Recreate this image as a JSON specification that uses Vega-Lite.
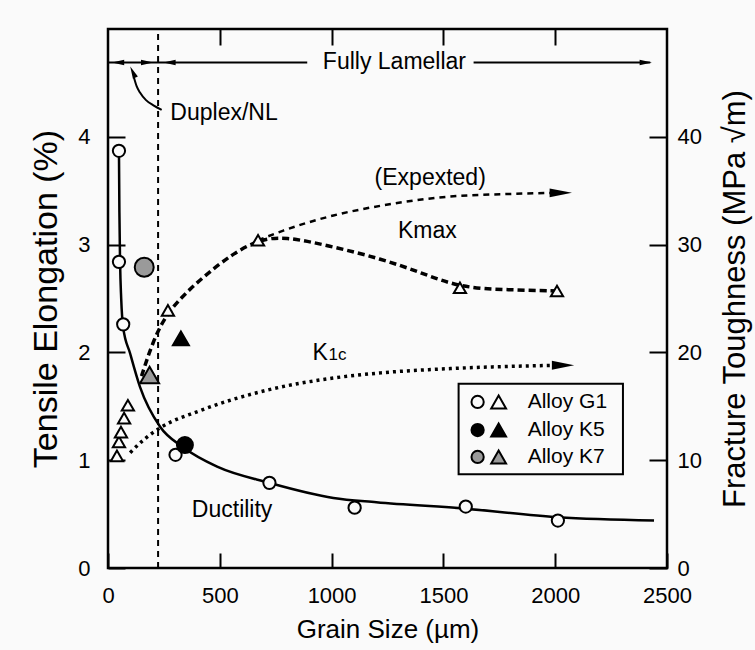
{
  "$schema": "https://vega.github.io/schema/vega-lite/v6.json",
  "width": 559,
  "height": 539,
  "autosize": "none",
  "padding": {"left": 108, "top": 29, "right": 88, "bottom": 82},
  "background": "#fafafa",
  "config": {
    "font": "Liberation Sans",
    "view": {"stroke": "black", "strokeWidth": 2.5},
    "axis": {"grid": false, "domain": false, "tickColor": "black", "tickWidth": 2, "labelColor": "black", "labelFont": "Liberation Sans", "labelFontSize": 22, "titleColor": "black", "titleFont": "Liberation Sans", "titleFontWeight": "normal"}
  },
  "resolve": {"scale": {"x": "independent", "y": "independent"}, "axis": {"x": "independent", "y": "independent"}},
  "layer": [
    {
      "encoding": {
        "x": {"field": "x", "type": "quantitative", "scale": {"domain": [0, 2500], "nice": false, "zero": false},
          "axis": {"orient": "bottom", "values": [0, 500, 1000, 1500, 2000, 2500], "format": "d", "tickSize": -15, "labelPadding": 32, "labelFlush": false, "title": "Grain Size (µm)", "titleFontSize": 26, "titlePadding": 10}},
        "y": {"field": "y", "type": "quantitative", "scale": {"domain": [0, 5], "nice": false, "zero": false},
          "axis": {"orient": "left", "values": [0, 1, 2, 3, 4], "tickSize": -17, "labelPadding": 35, "labelFlush": false, "title": "Tensile Elongation (%)", "titleFontSize": 34, "titlePadding": 14}}
      },
      "layer": [
        {
          "data": {"values": [{"x": 224, "y": 0, "y2": 5}]},
          "mark": {"type": "rule", "color": "black", "strokeWidth": 2, "strokeDash": [6, 5]},
          "encoding": {"y2": {"field": "y2"}}
        },
        {
          "data": {"values": [
            {"x": 0, "y": 4.69, "seg": "a"}, {"x": 891, "y": 4.69, "seg": "a"},
            {"x": 1635, "y": 4.69, "seg": "b"}, {"x": 2425, "y": 4.69, "seg": "b"}
          ]},
          "mark": {"type": "line", "color": "black", "strokeWidth": 2},
          "encoding": {"detail": {"field": "seg"}}
        },
        {
          "data": {"values": [{"x": 175, "y": 4.69}, {"x": 2405, "y": 4.69}]},
          "mark": {"type": "point", "shape": "M1,0L-1,-0.45L-1,0.45Z", "filled": true, "color": "black", "size": 150, "opacity": 1}
        },
        {
          "data": {"values": [{"x": 45, "y": 4.69}, {"x": 275, "y": 4.69}]},
          "mark": {"type": "point", "shape": "M-1,0L1,-0.45L1,0.45Z", "filled": true, "color": "black", "size": 150, "opacity": 1}
        },
        {
          "data": {"values": [
            {"x": 116, "y": 4.55}, {"x": 128, "y": 4.47}, {"x": 143, "y": 4.41}, {"x": 170, "y": 4.34}, {"x": 205, "y": 4.29}, {"x": 240, "y": 4.25}
          ]},
          "mark": {"type": "line", "color": "black", "strokeWidth": 2, "interpolate": "monotone"}
        },
        {
          "data": {"values": [{"x": 111, "y": 4.6}]},
          "mark": {"type": "point", "shape": "M0,-1L-0.45,1L0.45,1Z", "angle": -25, "filled": true, "color": "black", "size": 150, "opacity": 1}
        },
        {
          "data": {"values": [
            {"x": 49, "y": 3.87}, {"x": 51, "y": 3.3}, {"x": 54, "y": 2.84}, {"x": 59, "y": 2.5}, {"x": 68, "y": 2.23},
            {"x": 99, "y": 1.99}, {"x": 143, "y": 1.68}, {"x": 233, "y": 1.31}, {"x": 336, "y": 1.12}, {"x": 488, "y": 0.94},
            {"x": 722, "y": 0.79}, {"x": 1008, "y": 0.65}, {"x": 1200, "y": 0.61}, {"x": 1600, "y": 0.55}, {"x": 2012, "y": 0.47}, {"x": 2442, "y": 0.44}
          ]},
          "mark": {"type": "line", "color": "black", "strokeWidth": 2.5, "interpolate": "monotone"}
        },
        {
          "data": {"values": [
            {"x": 49, "y": 3.87, "alloy": "G1"}, {"x": 49, "y": 2.84, "alloy": "G1"}, {"x": 68, "y": 2.26, "alloy": "G1"},
            {"x": 302, "y": 1.05, "alloy": "G1"}, {"x": 722, "y": 0.79, "alloy": "G1"}, {"x": 1103, "y": 0.56, "alloy": "G1"},
            {"x": 1600, "y": 0.57, "alloy": "G1"}, {"x": 2012, "y": 0.44, "alloy": "G1"},
            {"x": 344, "y": 1.14, "alloy": "K5"}, {"x": 162, "y": 2.79, "alloy": "K7"}
          ]},
          "mark": {"type": "point", "shape": "circle", "filled": true, "stroke": "black", "strokeWidth": 2, "opacity": 1, "fillOpacity": 1},
          "encoding": {
            "fill": {"field": "alloy", "type": "nominal", "scale": {"domain": ["G1", "K5", "K7"], "range": ["#fafafa", "black", "#9a9a9a"]}, "legend": null},
            "size": {"field": "alloy", "type": "nominal", "scale": {"domain": ["G1", "K5", "K7"], "range": [150, 360, 380]}, "legend": null}
          }
        },
        {
          "data": {"values": [{"x": 1568, "x2": 2303, "y": 0.87, "y2": 1.71}]},
          "mark": {"type": "rect", "fill": "#fafafa", "stroke": "black", "strokeWidth": 2},
          "encoding": {"x2": {"field": "x2"}, "y2": {"field": "y2"}}
        },
        {
          "data": {"values": [{"x": 1653, "y": 1.54, "alloy": "G1"}, {"x": 1653, "y": 1.28, "alloy": "K5"}, {"x": 1653, "y": 1.03, "alloy": "K7"}]},
          "mark": {"type": "point", "shape": "circle", "filled": true, "stroke": "black", "strokeWidth": 2, "size": 150, "opacity": 1, "fillOpacity": 1},
          "encoding": {"fill": {"field": "alloy", "type": "nominal", "legend": null}}
        },
        {
          "data": {"values": [{"x": 1747, "y": 1.54, "alloy": "G1"}, {"x": 1747, "y": 1.28, "alloy": "K5"}, {"x": 1747, "y": 1.03, "alloy": "K7"}]},
          "mark": {"type": "point", "shape": "triangle-up", "filled": true, "stroke": "black", "strokeWidth": 2, "size": 220, "opacity": 1, "fillOpacity": 1},
          "encoding": {"fill": {"field": "alloy", "type": "nominal", "legend": null}}
        },
        {
          "data": {"values": [{"x": 1877, "y": 1.54, "label": "Alloy G1"}, {"x": 1877, "y": 1.28, "label": "Alloy K5"}, {"x": 1877, "y": 1.03, "label": "Alloy K7"}]},
          "mark": {"type": "text", "align": "left", "baseline": "middle", "fontSize": 21, "color": "black", "font": "Liberation Sans"},
          "encoding": {"text": {"field": "label"}}
        },
        {
          "data": {"values": [
            {"x": 1281, "y": 4.69, "label": "Fully Lamellar"},
            {"x": 519, "y": 4.22, "label": "Duplex/NL"},
            {"x": 1441, "y": 3.62, "label": "(Expexted)"},
            {"x": 1428, "y": 3.13, "label": "Kmax"},
            {"x": 555, "y": 0.54, "label": "Ductility"}
          ]},
          "mark": {"type": "text", "align": "center", "baseline": "middle", "fontSize": 23, "color": "black", "font": "Liberation Sans"},
          "encoding": {"text": {"field": "label"}}
        },
        {
          "data": {"values": [{"x": 915, "y": 1.93, "label": "K"}]},
          "mark": {"type": "text", "align": "left", "baseline": "alphabetic", "fontSize": 23, "color": "black", "font": "Liberation Sans"},
          "encoding": {"text": {"field": "label"}}
        },
        {
          "data": {"values": [{"x": 986, "y": 1.93, "label": "1c"}]},
          "mark": {"type": "text", "align": "left", "baseline": "alphabetic", "fontSize": 17, "color": "black", "font": "Liberation Sans"},
          "encoding": {"text": {"field": "label"}}
        }
      ]
    },
    {
      "encoding": {
        "x": {"field": "x", "type": "quantitative", "scale": {"domain": [0, 2500], "nice": false, "zero": false},
          "axis": {"orient": "top", "values": [500, 1000, 1500, 2000], "tickSize": -16, "labels": false, "title": null}},
        "y": {"field": "y", "type": "quantitative", "scale": {"domain": [0, 50], "nice": false, "zero": false},
          "axis": {"orient": "right", "values": [0, 10, 20, 30, 40], "tickSize": -18, "labelPadding": 28, "labelFlush": false, "title": "Fracture Toughness (MPa √m)", "titleFontSize": 31, "titleAngle": 270, "titlePadding": 50}}
      },
      "layer": [
        {
          "data": {"values": [
            {"x": 150, "y": 17.8}, {"x": 200, "y": 21.0}, {"x": 268, "y": 23.9}, {"x": 412, "y": 26.8}, {"x": 560, "y": 29.2},
            {"x": 671, "y": 30.4}, {"x": 784, "y": 30.8}, {"x": 1008, "y": 29.8}, {"x": 1219, "y": 28.7}, {"x": 1400, "y": 27.4},
            {"x": 1574, "y": 26.0}, {"x": 1792, "y": 25.8}, {"x": 2008, "y": 25.7}
          ]},
          "mark": {"type": "line", "color": "black", "strokeWidth": 3.5, "strokeDash": [7, 4], "interpolate": "basis"}
        },
        {
          "data": {"values": [
            {"x": 671, "y": 30.4}, {"x": 784, "y": 31.3}, {"x": 1008, "y": 32.7}, {"x": 1219, "y": 33.6}, {"x": 1496, "y": 34.4}, {"x": 1800, "y": 34.7}, {"x": 2010, "y": 34.8}
          ]},
          "mark": {"type": "line", "color": "black", "strokeWidth": 2.5, "strokeDash": [6, 5], "interpolate": "monotone"}
        },
        {
          "data": {"values": [
            {"x": 99, "y": 10.7}, {"x": 160, "y": 11.9}, {"x": 233, "y": 13.0}, {"x": 412, "y": 14.6}, {"x": 712, "y": 16.5},
            {"x": 1000, "y": 17.6}, {"x": 1219, "y": 18.1}, {"x": 1532, "y": 18.5}, {"x": 2000, "y": 18.8}
          ]},
          "mark": {"type": "line", "color": "black", "strokeWidth": 3.5, "strokeDash": [3, 4], "interpolate": "monotone"}
        },
        {
          "data": {"values": [{"x": 2025, "y": 34.8}, {"x": 2035, "y": 18.8}]},
          "mark": {"type": "point", "shape": "M1,0L-1,-0.4L-1,0.4Z", "filled": true, "color": "black", "size": 500, "opacity": 1}
        },
        {
          "data": {"values": [
            {"x": 40, "y": 10.4, "alloy": "G1"}, {"x": 49, "y": 11.7, "alloy": "G1"}, {"x": 58, "y": 12.6, "alloy": "G1"},
            {"x": 72, "y": 13.9, "alloy": "G1"}, {"x": 89, "y": 15.1, "alloy": "G1"}, {"x": 268, "y": 23.9, "alloy": "G1"},
            {"x": 671, "y": 30.4, "alloy": "G1"}, {"x": 1574, "y": 26.0, "alloy": "G1"}, {"x": 2008, "y": 25.7, "alloy": "G1"},
            {"x": 326, "y": 21.3, "alloy": "K5"}, {"x": 186, "y": 17.9, "alloy": "K7"}
          ]},
          "mark": {"type": "point", "shape": "triangle-up", "filled": true, "stroke": "black", "strokeWidth": 2, "opacity": 1, "fillOpacity": 1},
          "encoding": {
            "fill": {"field": "alloy", "type": "nominal", "legend": null},
            "size": {"field": "alloy", "type": "nominal", "scale": {"domain": ["G1", "K5", "K7"], "range": [220, 480, 540]}, "legend": null}
          }
        }
      ]
    }
  ]
}
